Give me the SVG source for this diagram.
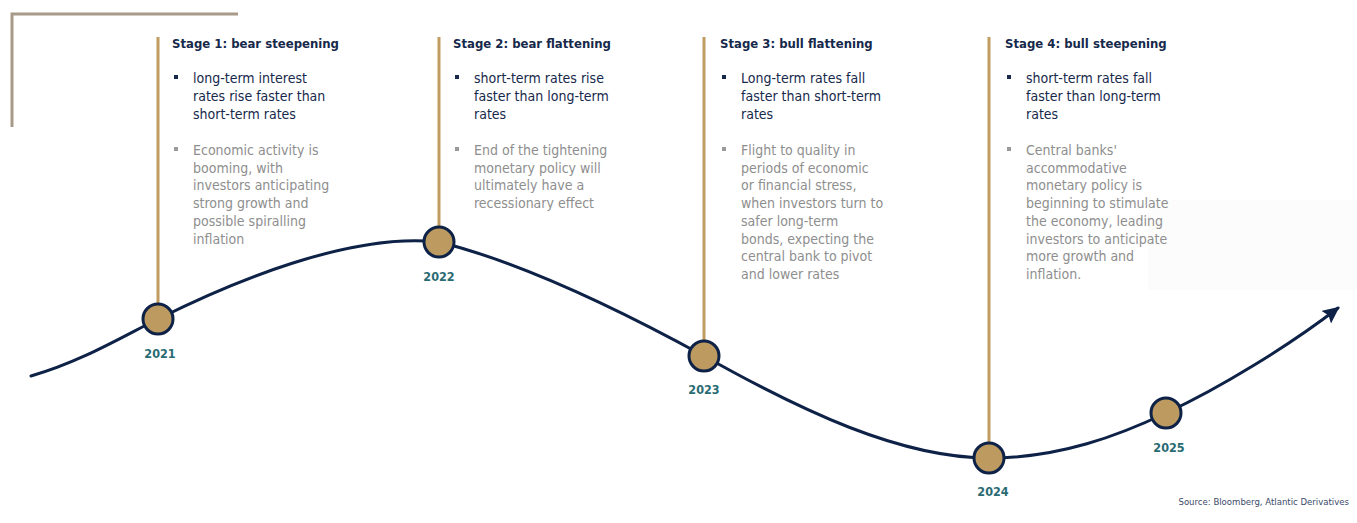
<svg xmlns="http://www.w3.org/2000/svg" width="1357" height="523" viewBox="0 0 1357 523">
  <defs>
    <marker id="arrow" markerUnits="userSpaceOnUse" markerWidth="20" markerHeight="18" refX="15" refY="8" orient="auto">
      <path d="M0,0 L17,8 L0,16 L3,8 z" fill="#0e2247"/>
    </marker>
    <style>
      text { font-family: "DejaVu Sans Condensed", "DejaVu Sans", sans-serif; }
      .head { font-size: 13px; font-weight: bold; fill: #16294b; }
      .key { font-size: 14px; fill: #16294b; }
      .note { font-size: 14px; fill: #8e8e8e; }
      .bk { fill: #16294b; }
      .bn { fill: #9a9a9a; }
      .year { font-size: 12.5px; font-weight: bold; fill: #2a6b73; text-anchor: middle; }
      .stem { stroke: #c09c61; stroke-width: 3; fill: none; }
      .dot { fill: #bd9a5f; stroke: #0e2247; stroke-width: 3; }
      .frame { stroke: #a89a88; stroke-width: 3; fill: none; }
      .curve { stroke: #0e2247; stroke-width: 3; fill: none; stroke-linecap: round; }
      .src { font-size: 9.5px; fill: #3b4a6b; text-anchor: end; }
    </style>
  </defs>

  <rect width="1357" height="523" fill="#ffffff"/>
  <rect x="1148" y="200" width="209" height="90" fill="#fcfcfd"/>

  <!-- corner bracket -->
  <path class="frame" d="M238,14 H12 V127"/>

  <!-- yield curve path through the years -->
  <g id="connectors">
    <path class="curve" marker-end="url(#arrow)"
          d="M31,376 C80,362 120,338 158,319 C230,283 350,232 439,242 C520,262 620,310 704,356 C800,410 900,458 989,458 C1060,458 1120,435 1166,413 C1220,388 1290,345 1338,308"/>
  </g>

  <g id="stage1">
    <line class="stem" x1="158" y1="37" x2="158" y2="304"/>
    <circle class="dot" cx="158" cy="319" r="15"/>
    <text class="year" x="160" y="358">2021</text>
    <text class="head" x="172" y="48">Stage 1: bear steepening</text>
    <rect class="bk" x="174" y="75" width="4" height="4"/>
    <text class="key" x="193" y="83">long-term interest</text>
    <text class="key" x="193" y="101">rates rise faster than</text>
    <text class="key" x="193" y="119">short-term rates</text>
    <rect class="bn" x="174" y="147" width="4" height="4"/>
    <text class="note" x="193" y="155">Economic activity is</text>
    <text class="note" x="193" y="172.7">booming, with</text>
    <text class="note" x="193" y="190.4">investors anticipating</text>
    <text class="note" x="193" y="208.1">strong growth and</text>
    <text class="note" x="193" y="225.8">possible spiralling</text>
    <text class="note" x="193" y="243.5">inflation</text>
  </g>

  <g id="stage2">
    <line class="stem" x1="439" y1="37" x2="439" y2="227"/>
    <circle class="dot" cx="439" cy="242" r="15"/>
    <text class="year" x="439" y="281">2022</text>
    <text class="head" x="453" y="48">Stage 2: bear flattening</text>
    <rect class="bk" x="455" y="75" width="4" height="4"/>
    <text class="key" x="474" y="83">short-term rates rise</text>
    <text class="key" x="474" y="101">faster than long-term</text>
    <text class="key" x="474" y="119">rates</text>
    <rect class="bn" x="455" y="147" width="4" height="4"/>
    <text class="note" x="474" y="155">End of the tightening</text>
    <text class="note" x="474" y="172.7">monetary policy will</text>
    <text class="note" x="474" y="190.4">ultimately have a</text>
    <text class="note" x="474" y="208.1">recessionary effect</text>
  </g>

  <g id="stage3">
    <line class="stem" x1="704" y1="37" x2="704" y2="341"/>
    <circle class="dot" cx="704" cy="356" r="15"/>
    <text class="year" x="704" y="394">2023</text>
    <text class="head" x="720" y="48">Stage 3: bull flattening</text>
    <rect class="bk" x="722" y="75" width="4" height="4"/>
    <text class="key" x="741" y="83">Long-term rates fall</text>
    <text class="key" x="741" y="101">faster than short-term</text>
    <text class="key" x="741" y="119">rates</text>
    <rect class="bn" x="722" y="147" width="4" height="4"/>
    <text class="note" x="741" y="155">Flight to quality in</text>
    <text class="note" x="741" y="172.7">periods of economic</text>
    <text class="note" x="741" y="190.4">or financial stress,</text>
    <text class="note" x="741" y="208.1">when investors turn to</text>
    <text class="note" x="741" y="225.8">safer long-term</text>
    <text class="note" x="741" y="243.5">bonds, expecting the</text>
    <text class="note" x="741" y="261.2">central bank to pivot</text>
    <text class="note" x="741" y="278.9">and lower rates</text>
  </g>

  <g id="stage4">
    <line class="stem" x1="989" y1="37" x2="989" y2="443"/>
    <circle class="dot" cx="989" cy="458" r="15"/>
    <text class="year" x="993" y="496">2024</text>
    <text class="head" x="1005" y="48">Stage 4: bull steepening</text>
    <rect class="bk" x="1007" y="75" width="4" height="4"/>
    <text class="key" x="1026" y="83">short-term rates fall</text>
    <text class="key" x="1026" y="101">faster than long-term</text>
    <text class="key" x="1026" y="119">rates</text>
    <rect class="bn" x="1007" y="147" width="4" height="4"/>
    <text class="note" x="1026" y="155">Central banks'</text>
    <text class="note" x="1026" y="172.7">accommodative</text>
    <text class="note" x="1026" y="190.4">monetary policy is</text>
    <text class="note" x="1026" y="208.1">beginning to stimulate</text>
    <text class="note" x="1026" y="225.8">the economy, leading</text>
    <text class="note" x="1026" y="243.5">investors to anticipate</text>
    <text class="note" x="1026" y="261.2">more growth and</text>
    <text class="note" x="1026" y="278.9">inflation.</text>
  </g>

  <g id="year2025">
    <circle class="dot" cx="1166" cy="413" r="15"/>
    <text class="year" x="1169" y="452">2025</text>
  </g>

  <text class="src" x="1349" y="505">Source: Bloomberg, Atlantic Derivatives</text>
</svg>
